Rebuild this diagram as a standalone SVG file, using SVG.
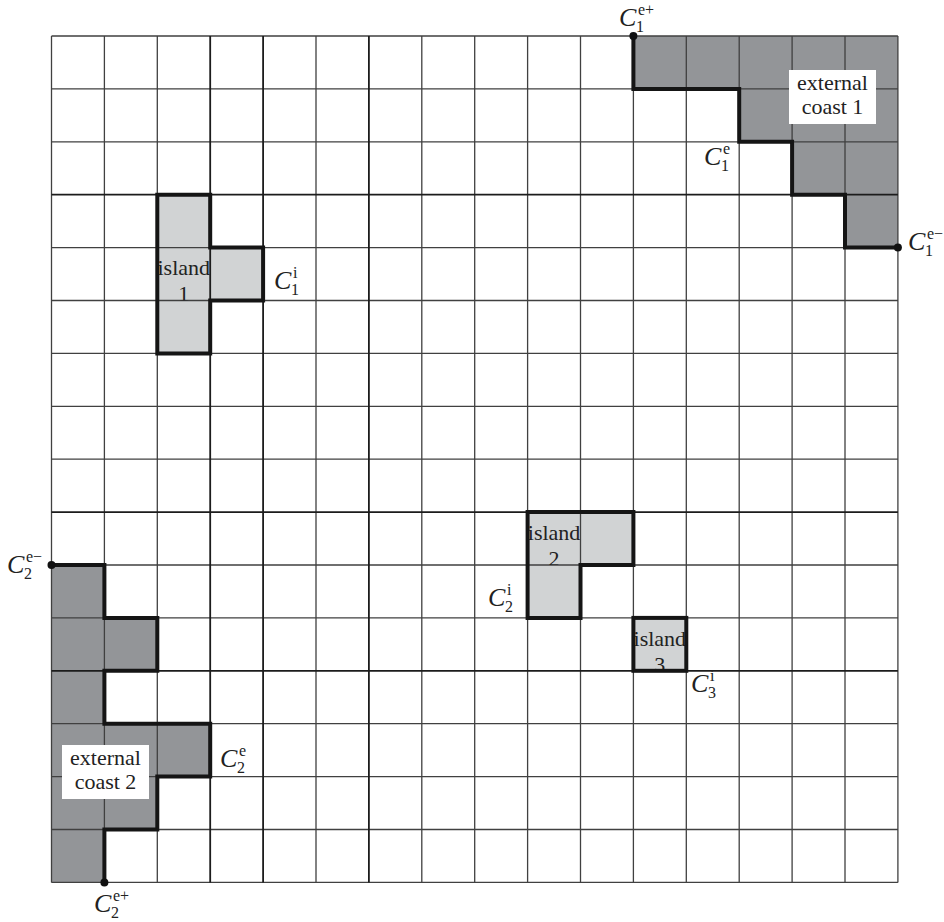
<svg xmlns="http://www.w3.org/2000/svg" width="944" height="922" viewBox="0 0 944 922">
<style>
.dark{fill:#939598}
.light{fill:#d1d3d4}
.grid{stroke:#404040;stroke-width:1.3;fill:none}
.gridb{stroke:#1c1c1c;stroke-width:1.8;fill:none}
.bd{stroke:#151515;stroke-width:4;fill:none;stroke-linejoin:miter;stroke-linecap:square}
.dot{fill:#111}
.lbl{font-family:'Liberation Serif','DejaVu Serif','Times New Roman',serif;font-size:22px;fill:#222;text-anchor:middle}
.box{fill:#fff}
.m{font-family:'Liberation Serif','DejaVu Serif','Times New Roman',serif;fill:#222}
.mc{font-size:26px;font-style:italic}
.ms{font-size:16px}
</style>
<defs>
<clipPath id="c1"><rect x="157.3" y="247.6" width="52.9" height="52.9"/></clipPath>
<clipPath id="c2"><rect x="527.6" y="512.1" width="52.9" height="52.9"/></clipPath>
<clipPath id="c3"><rect x="633.4" y="617.9" width="52.9" height="52.9"/></clipPath>
</defs>
<rect width="944" height="922" fill="#fff"/>
<g id="fills">
<polygon class="dark" points="633.4,36 897.9,36 897.9,247.6 845,247.6 845,194.7 792.1,194.7 792.1,141.8 739.2,141.8 739.2,88.9 633.4,88.9"/>
<polygon class="dark" points="51.5,565 104.4,565 104.4,617.9 157.3,617.9 157.3,670.8 104.4,670.8 104.4,723.7 210.2,723.7 210.2,776.6 157.3,776.6 157.3,829.5 104.4,829.5 104.4,882.4 51.5,882.4"/>
<polygon class="light" points="157.3,194.7 210.2,194.7 210.2,247.6 263.1,247.6 263.1,300.5 210.2,300.5 210.2,353.4 157.3,353.4"/>
<polygon class="light" points="527.6,512.1 633.4,512.1 633.4,565 580.5,565 580.5,617.9 527.6,617.9"/>
<rect class="light" x="633.4" y="617.9" width="52.9" height="52.9"/>
</g>
<g id="grid">
<path class="grid" d="M51.5,36V882.4M104.4,36V882.4M157.3,36V882.4M316,36V882.4M421.8,36V882.4M474.7,36V882.4M527.6,36V882.4M580.5,36V882.4M633.4,36V882.4M686.3,36V882.4M739.2,36V882.4M792.1,36V882.4M845,36V882.4M897.9,36V882.4M51.5,36H897.9M51.5,88.9H897.9M51.5,141.8H897.9M51.5,247.6H897.9M51.5,300.5H897.9M51.5,353.4H897.9M51.5,406.3H897.9M51.5,459.2H897.9M51.5,565H897.9M51.5,617.9H897.9M51.5,723.7H897.9M51.5,776.6H897.9M51.5,829.5H897.9M51.5,882.4H897.9"/>
<path class="gridb" d="M210.2,36V882.4M263.1,36V882.4M368.9,36V882.4M51.5,194.7H897.9M51.5,512.1H897.9M51.5,670.8H897.9"/>
</g>
<g id="island1">
<text class="lbl" clip-path="url(#c1)"><tspan x="183.75" y="275">island</tspan><tspan x="183.75" y="301">1</tspan></text>
<polygon class="bd" points="157.3,194.7 210.2,194.7 210.2,247.6 263.1,247.6 263.1,300.5 210.2,300.5 210.2,353.4 157.3,353.4"/>
<text class="m"><tspan class="mc" x="274" y="289">C</tspan><tspan class="ms" x="293" y="278">i</tspan><tspan class="ms" x="291" y="295">1</tspan></text>
</g>
<g id="island2">
<text class="lbl" clip-path="url(#c2)"><tspan x="554.05" y="539.5">island</tspan><tspan x="554.05" y="565.5">2</tspan></text>
<polygon class="bd" points="527.6,512.1 633.4,512.1 633.4,565 580.5,565 580.5,617.9 527.6,617.9"/>
<text class="m"><tspan class="mc" x="488" y="606">C</tspan><tspan class="ms" x="507" y="595">i</tspan><tspan class="ms" x="505" y="612">2</tspan></text>
</g>
<g id="island3">
<text class="lbl" clip-path="url(#c3)"><tspan x="659.85" y="645.5">island</tspan><tspan x="659.85" y="672">3</tspan></text>
<rect class="bd" x="633.4" y="617.9" width="52.9" height="52.9"/>
<text class="m"><tspan class="mc" x="691" y="692">C</tspan><tspan class="ms" x="710" y="681">i</tspan><tspan class="ms" x="708" y="698">3</tspan></text>
</g>
<g id="coast1">
<polyline class="bd" points="633.4,36 633.4,88.9 739.2,88.9 739.2,141.8 792.1,141.8 792.1,194.7 845,194.7 845,247.6 897.9,247.6"/>
<rect class="box" x="789" y="70" width="87" height="54"/>
<text class="lbl"><tspan x="832.5" y="89.5">external</tspan><tspan x="832.5" y="114">coast 1</tspan></text>
<circle class="dot" cx="633.4" cy="36" r="4"/>
<circle class="dot" cx="897.9" cy="247.6" r="4"/>
<text class="m"><tspan class="mc" x="619" y="26">C</tspan><tspan class="ms" x="638" y="15">e+</tspan><tspan class="ms" x="636" y="32">1</tspan></text>
<text class="m"><tspan class="mc" x="704" y="165">C</tspan><tspan class="ms" x="723" y="154">e</tspan><tspan class="ms" x="721" y="171">1</tspan></text>
<text class="m"><tspan class="mc" x="908" y="250">C</tspan><tspan class="ms" x="927" y="239">e−</tspan><tspan class="ms" x="925" y="256">1</tspan></text>
</g>
<g id="coast2">
<polyline class="bd" points="51.5,565 104.4,565 104.4,617.9 157.3,617.9 157.3,670.8 104.4,670.8 104.4,723.7 210.2,723.7 210.2,776.6 157.3,776.6 157.3,829.5 104.4,829.5 104.4,882.4"/>
<rect class="box" x="62" y="745" width="87" height="54"/>
<text class="lbl"><tspan x="105.5" y="764.5">external</tspan><tspan x="105.5" y="789">coast 2</tspan></text>
<circle class="dot" cx="51.5" cy="565" r="4"/>
<circle class="dot" cx="104.4" cy="882.4" r="4"/>
<text class="m"><tspan class="mc" x="7" y="573">C</tspan><tspan class="ms" x="26" y="562">e−</tspan><tspan class="ms" x="24" y="579">2</tspan></text>
<text class="m"><tspan class="mc" x="220" y="767">C</tspan><tspan class="ms" x="239" y="756">e</tspan><tspan class="ms" x="237" y="773">2</tspan></text>
<text class="m"><tspan class="mc" x="94" y="912">C</tspan><tspan class="ms" x="113" y="901">e+</tspan><tspan class="ms" x="111" y="918">2</tspan></text>
</g>
</svg>
